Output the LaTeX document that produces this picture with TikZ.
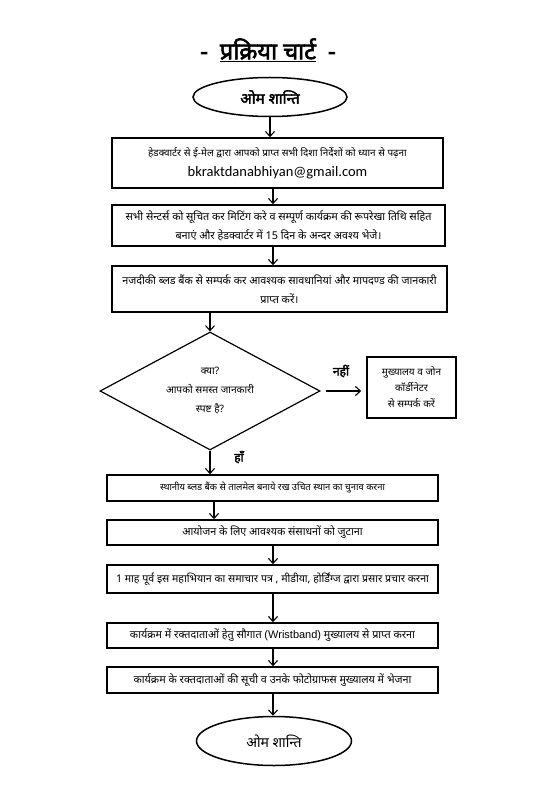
\documentclass[tikz,border=0pt]{standalone}
\usepackage{fontspec}
\setmainfont{Noto Sans}[Script=Devanagari, BoldFont={Noto Sans}, BoldFeatures={FakeBold=2.5}]
\newfontfamily\mailfont{Carlito}
\newfontfamily\arialfont{Liberation Sans}
\usetikzlibrary{shapes,arrows,arrows.meta,positioning}

\begin{document}
\begin{tikzpicture}[x=1pt, y=-1pt, auto,
        block/.style={rectangle, draw, line width=1.5pt, inner sep=0pt, align=center, font=\fontsize{10.8}{19}\selectfont},
        term/.style={ellipse, draw, line width=1.5pt, inner sep=0pt, font=\fontsize{14}{16}\selectfont},
        decision/.style={diamond, draw, line width=1.2pt, inner sep=0pt, aspect=1.86, align=center, minimum width=220pt, minimum height=118pt, font=\fontsize{10.2}{19}\selectfont},
        link/.style={-{Straight Barb[length=5pt,width=9pt]}, line width=1.1pt}]

        \useasboundingbox (0,0) rectangle (550,810);

        \node (title) at (268,50) {\bfseries\fontsize{23.5}{26}\selectfont -\hspace{12pt}\underline{प्रक्रिया चार्ट}\hspace{12pt}-};

        \node[term, minimum width=154pt, minimum height=39pt, font=\bfseries\fontsize{15}{17}\selectfont] (start) at (270,97) {ओम शान्ति};
        \node[block, minimum width=331pt, minimum height=50pt, font=\fontsize{9.9}{19}\selectfont] (mail) at (277.5,163) {हेडक्वार्टर से ई-मेल द्वारा आपको प्राप्त सभी दिशा निर्देशों को ध्यान से पढ़ना\\[1pt]{\mailfont\fontsize{14.5}{16}\selectfont bkraktdanabhiyan@gmail.com}};
        \node[block, minimum width=333pt, minimum height=41pt] (centres) at (278.5,225.5) {सभी सेन्टर्स को सूचित कर मिटिंग करे व सम्पूर्ण कार्यक्रम की रूपरेखा तिथि सहित\\बनाएं और हेडक्वार्टर में 15 दिन के अन्दर अवश्य भेजे।};
        \node[block, minimum width=335pt, minimum height=46pt] (info) at (279.5,289) {नजदीकी ब्लड बैंक से सम्पर्क कर आवश्यक सावधानियां और मापदण्ड की जानकारी\\प्राप्त करें।};
        \node[decision] (check) at (210,391) {क्या?\\आपको समस्त जानकारी\\स्पष्ट है?};
        \node[block, minimum width=89pt, minimum height=61pt, font=\fontsize{10}{16}\selectfont] (hq) at (411.5,387.5) {मुख्यालय व जोन\\कॉर्डीनेटर\\से सम्पर्क करें};
        \node[block, minimum width=331pt, minimum height=26pt, font=\fontsize{9.4}{12}\selectfont] (venue) at (272.5,488) {स्थानीय ब्लड बैंक से तालमेल बनाये रख उचित स्थान का चुनाव करना};
        \node[block, minimum width=331pt, minimum height=25pt] (means) at (272.5,532.5) {आयोजन के लिए आवश्यक संसाधनों को जुटाना};
        \node[block, minimum width=331pt, minimum height=28pt, font=\fontsize{10.6}{12}\selectfont] (press) at (272.5,579) {1 माह पूर्व इस महाभियान का समाचार पत्र , मीडीया, होर्डिंग्ज द्वारा प्रसार प्रचार करना};
        \node[block, minimum width=331pt, minimum height=25pt] (band) at (272.5,635.5) {कार्यक्रम में रक्तदाताओं हेतु सौगात {\arialfont\fontsize{11}{13}\selectfont(Wristband)} मुख्यालय से प्राप्त करना};
        \node[block, minimum width=331pt, minimum height=26pt] (donors) at (272.5,680) {कार्यक्रम के रक्तदाताओं की सूची व उनके फोटोग्राफस मुख्यालय में भेजना};
        \node[term, minimum width=155pt, minimum height=49pt] (stop) at (274,741) {ओम शान्ति};

        \node[font=\bfseries\fontsize{12}{14}\selectfont] (no) at (341,371) {नहीं};
        \node[font=\bfseries\fontsize{12}{14}\selectfont] (yes) at (239,457) {हाँ};

        \coordinate (spine) at (273,0);
        \coordinate (spinel) at (214,0);

        \draw[link] (start.south) -- (start.south |- mail.north);
        \draw[link] (mail.south -| spine) -- (centres.north -| spine);
        \draw[link] (centres.south -| spine) -- (info.north -| spine);
        \draw[link] (info.south -| check) -- (check.north);
        \draw[link, shorten <=5pt, shorten >=5pt] (check.east) -- (check.east -| hq.west);
        \draw[link] (check.south) -- (check.south |- venue.north);
        \draw[link] (venue.south -| spinel) -- (means.north -| spinel);
        \draw[link] (means.south -| spine) -- (press.north -| spine);
        \draw[link] (press.south -| spine) -- (band.north -| spine);
        \draw[link] (band.south -| spine) -- (donors.north -| spine);
        \draw[link] (donors.south -| spine) -- (stop.north -| spine);
    \end{tikzpicture}
\end{document}
